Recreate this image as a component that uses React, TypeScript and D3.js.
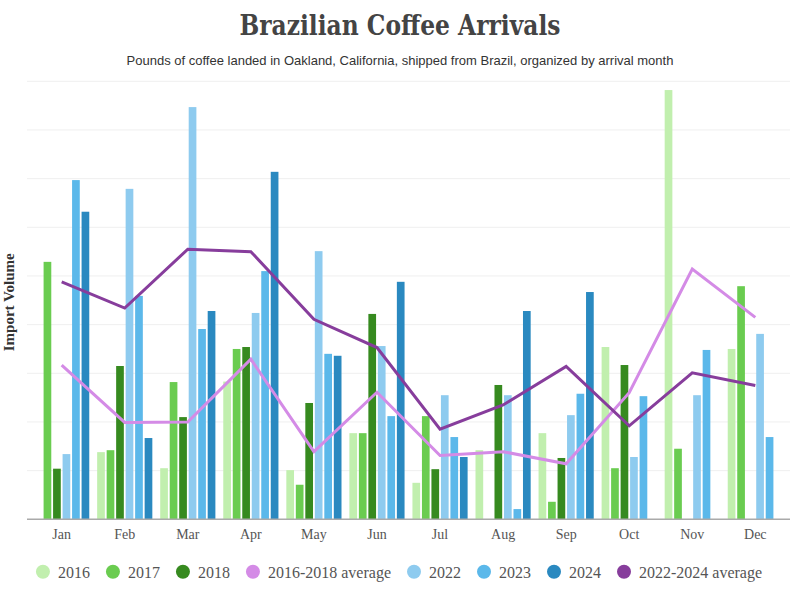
import React from "react";
import * as d3 from "d3";

const months = ["Jan", "Feb", "Mar", "Apr", "May", "Jun", "Jul", "Aug", "Sep", "Oct", "Nov", "Dec"];
const years = ["2016", "2017", "2018", "2022", "2023", "2024"];

const v2016 = [null, 1.38, 1.05, 2.83, 1.01, 1.77, 0.75, 1.42, 1.77, 3.54, 8.82, 3.5];
const v2017 = [5.29, 1.42, 2.82, 3.5, 0.71, 1.77, 2.12, 0, 0.36, 1.05, 1.45, 4.79];
const v2018 = [1.04, 3.15, 2.1, 3.54, 2.39, 4.22, 1.03, 2.76, 1.26, 3.17, null, null];
const v2022 = [1.34, 6.79, 8.47, 4.24, 5.51, 3.56, 2.55, 2.55, 2.14, 1.28, 2.55, 3.81];
const v2023 = [6.97, 4.59, 3.91, 5.1, 3.4, 2.12, 1.69, 0.21, 2.58, 2.53, 3.48, 1.69];
const v2024 = [6.32, 1.67, 4.28, 7.14, 3.36, 4.88, 1.28, 4.28, 4.67, null, null, null];

const avg1618 = [3.17, 1.99, 2.0, 3.29, 1.39, 2.61, 1.31, 1.39, 1.14, 2.6, 5.14, 4.15];
const avg2224 = [4.88, 4.34, 5.55, 5.5, 4.11, 3.53, 1.85, 2.35, 3.14, 1.92, 3.01, 2.75];

const yTicks = [0, 1, 2, 3, 4, 5, 6, 7, 8, 9];

const barSeries = [v2016, v2017, v2018, v2022, v2023, v2024];
const barColors = ["#c1efae", "#6acc50", "#368a1f", "#8ecbef", "#5bb8ea", "#2a89c0"];
const colorAvg1618 = "#d48be6";
const colorAvg2224 = "#873d9c";

const legendItems = [
  { label: "2016", color: barColors[0] },
  { label: "2017", color: barColors[1] },
  { label: "2018", color: barColors[2] },
  { label: "2016-2018 average", color: colorAvg1618 },
  { label: "2022", color: barColors[3] },
  { label: "2023", color: barColors[4] },
  { label: "2024", color: barColors[5] },
  { label: "2022-2024 average", color: colorAvg2224 },
];

const W = 800;
const H = 600;
const plotLeft = 27;
const plotRight = 790;
const plotTop = 81.3;
const plotBottom = 519.3;

const legendFont = "16px 'Liberation Serif'";

function measure(text: string, font: string): number {
  const c = document.createElement("canvas");
  const ctx = c.getContext("2d");
  if (!ctx) return text.length * 8;
  ctx.font = font;
  return ctx.measureText(text).width;
}

export default function App() {
  const x = d3.scaleBand<string>().domain(months).range([plotLeft, plotRight]).paddingOuter(0.05).paddingInner(0);
  const xi = d3
    .scaleBand<string>()
    .domain(years)
    .range([0, x.bandwidth()])
    .paddingInner(0.19)
    .paddingOuter(0.415);
  const y = d3.scaleLinear().domain([0, 9]).range([plotBottom, plotTop]);

  const line = d3
    .line<number>()
    .x((_, i) => (x(months[i]) as number) + x.bandwidth() / 2)
    .y((d) => y(d));

  // legend layout
  const r = 7;
  const textOff = 15;
  const gapAfter = 16;
  const widths = legendItems.map((it) => measure(it.label, legendFont));
  const itemW = widths.map((w) => textOff + w + gapAfter + r);
  const total = itemW.reduce((a, b) => a + b, 0) - gapAfter - r + r; // from circle left edge to last text end
  let cursor = 399 - total / 2 + r;
  const legendPos = legendItems.map((_, i) => {
    const cx = cursor;
    cursor += itemW[i];
    return cx;
  });

  return (
    <svg width={W} height={H} style={{ position: "absolute", left: 0, top: 0, background: "#fff" }}>
      <text
        x={400}
        y={35}
        textAnchor="middle"
        fontFamily="'DejaVu Serif', serif"
        fontWeight="bold"
        fontSize={27}
        fill="#444"
        textLength={321}
        lengthAdjust="spacingAndGlyphs"
      >
        Brazilian Coffee Arrivals
      </text>
      <text x={400} y={65} textAnchor="middle" fontFamily="'Liberation Sans', Arial, sans-serif" fontSize={13} fill="#333">
        Pounds of coffee landed in Oakland, California, shipped from Brazil, organized by arrival month
      </text>

      {yTicks.slice(1).map((t) => (
        <line key={t} x1={plotLeft} x2={plotRight} y1={y(t)} y2={y(t)} stroke="#efefef" strokeWidth={1} />
      ))}

      <text
        transform={`translate(13.5, ${(plotTop + plotBottom) / 2 + 2}) rotate(-90)`}
        textAnchor="middle"
        fontFamily="'Liberation Serif', serif"
        fontWeight="bold"
        fontSize={15}
        fill="#333"
      >
        Import Volume
      </text>

      {months.map((m, mi) => (
        <g key={m} transform={`translate(${x(m)},0)`}>
          {barSeries.map((s, si) => {
            const v = s[mi];
            if (v == null || v <= 0) return null;
            return (
              <rect
                key={si}
                x={xi(years[si])}
                width={xi.bandwidth()}
                y={y(v)}
                height={y(0) - y(v)}
                fill={barColors[si]}
              />
            );
          })}
        </g>
      ))}

      <line x1={plotLeft} x2={plotRight} y1={plotBottom} y2={plotBottom} stroke="#aaa" strokeWidth={1.5} />

      {months.map((m) => (
        <text
          key={m}
          x={(x(m) as number) + x.bandwidth() / 2}
          y={539}
          textAnchor="middle"
          fontFamily="'Liberation Serif', serif"
          fontSize={14}
          fill="#555"
        >
          {m}
        </text>
      ))}

      <path d={line(avg1618) || ""} fill="none" stroke={colorAvg1618} strokeWidth={3} strokeLinejoin="miter" />
      <path d={line(avg2224) || ""} fill="none" stroke={colorAvg2224} strokeWidth={3} strokeLinejoin="miter" />

      {legendItems.map((it, i) => (
        <g key={it.label}>
          <circle cx={legendPos[i]} cy={571.7} r={r} fill={it.color} />
          <text x={legendPos[i] + textOff} y={577.5} fontFamily="'Liberation Serif', serif" fontSize={16} fill="#555">
            {it.label}
          </text>
        </g>
      ))}
    </svg>
  );
}
